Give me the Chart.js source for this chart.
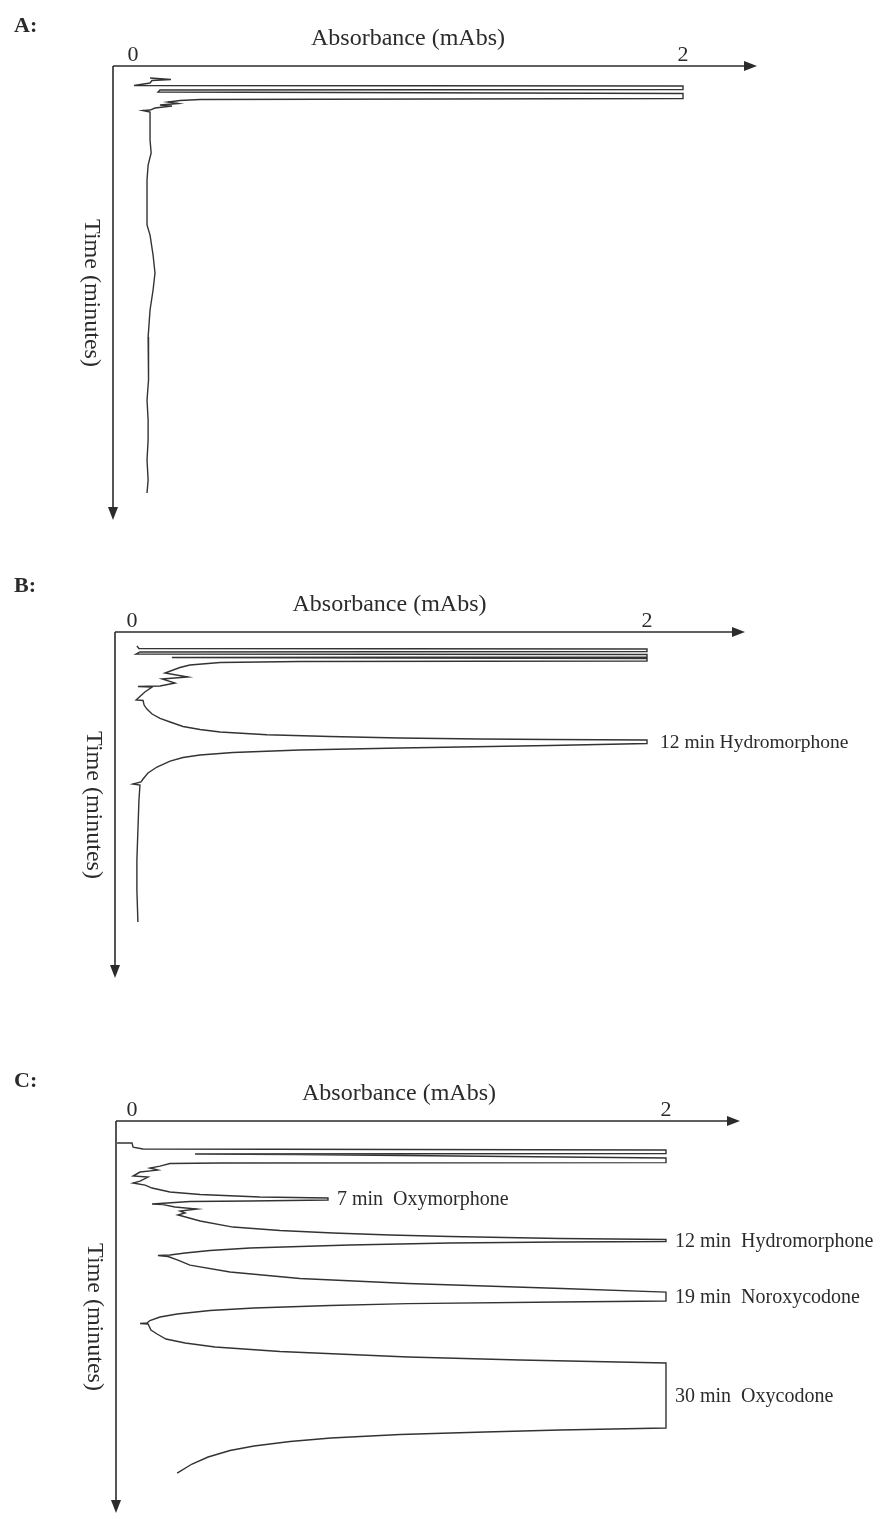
<!DOCTYPE html>
<html>
<head>
<meta charset="utf-8">
<script src="https://cdn.jsdelivr.net/npm/chart.js@4.4.0/dist/chart.umd.min.js"></script>
<style>
  html, body { margin: 0; padding: 0; background: #fff; }
  body { width: 892px; height: 1514px; position: relative; overflow: hidden; }
  canvas { position: absolute; left: 0; }
</style>
</head>
<body>
<canvas id="chartA" width="892" height="540" style="top:0px"></canvas>
<canvas id="chartB" width="892" height="450" style="top:545px"></canvas>
<canvas id="chartC" width="892" height="474" style="top:1040px"></canvas>
<script>
(function(){
	var serif = '"Liberation Serif", "Times New Roman", serif';
	var ink = '#2b2b2b';
	var trace = '#333333';

	// absorbance ticks shown on every panel
	var absTicks = [0, 2];

	// A: blank injection
	var timeA = [0.23, 0.41, 0.53, 0.82, 1.11, 1.17, 1.58, 1.64, 1.88, 2.06, 2.64, 2.76, 2.88, 3.06, 3.23, 3.41, 3.53, 3.76, 4.0, 4.06,
		4.24, 5.76, 7.53, 9.06, 10.47, 12.24, 14.59, 17.53, 18.71, 21.06, 23.18, 25.18, 27.53, 30.71, 33.41, 35.76, 38.12, 40.47, 42.82, 45.18, 47.53, 49.06];
	var absA = [0.062, 0.138, 0.069, 0.062, 0.004, 2, 2, 0.098, 0.091, 2, 2, 0.244, 0.171, 0.127, 0.164, 0.098, 0.142, 0.080, 0.062, 0.036,
		0.062, 0.062, 0.062, 0.066, 0.055, 0.051, 0.051, 0.051, 0.062, 0.073, 0.080, 0.073, 0.062, 0.055, 0.055, 0.058, 0.051, 0.055, 0.055, 0.051, 0.055, 0.051];

	// B: hydromorphone standard
	var timeB = [0.25, 0.56, 0.63, 0.94, 1.0, 1.25, 1.31, 1.63, 1.69, 1.81, 2.13, 2.19, 2.31, 2.63, 2.94, 3.63, 4.13, 4.38, 4.88, 5.25, 5.31, 5.38,
		6.0, 7.0, 7.06, 7.63, 8.13, 8.75, 9.31, 9.75, 10.31, 10.69, 11.0, 11.35, 11.56, 11.75, 11.88, 11.94, 12.0,
		12.44, 12.69, 13.0, 13.25, 13.56, 13.88, 14.19, 14.63, 15.38, 16.13, 16.88,
		17.25, 17.5, 17.63, 19.5, 23.25, 27.0, 30.75, 34.75];
	var absB = [0.019, 0.027, 2, 2, 0.031, 0.016, 2, 2, 0.155, 2, 2, 0.652, 0.342, 0.225, 0.186, 0.128, 0.217, 0.117, 0.167, 0.109, 0.023, 0.078,
		0.050, 0.016, 0.043, 0.047, 0.058, 0.078, 0.109, 0.148, 0.198, 0.264, 0.342, 0.524, 0.769, 1.041, 1.351, 1.623, 2,
		2, 1.623, 1.041, 0.652, 0.392, 0.264, 0.198, 0.148, 0.097, 0.062, 0.043,
		0.035, 0.004, 0.031, 0.027, 0.023, 0.019, 0.019, 0.023];
	var peakTimesB = [12];
	var peakNamesB = ['12 min Hydromorphone'];

	// C: mixed standard
	var timeC = [0.59, 0.59, 1.06, 1.29, 1.41, 1.82, 1.88, 1.94, 2.35, 2.88, 2.93, 2.99, 3.29, 3.52, 3.76, 3.99, 4.46, 4.58, 5.05, 5.28, 5.52, 5.87,
		6.34, 6.63, 6.92, 7.04, 7.28, 7.39, 7.45, 7.75, 7.81, 8.10, 8.33, 8.57, 8.80, 9.04, 9.15,
		9.74, 10.45, 10.86, 11.15, 11.38, 11.56, 11.80, 11.91, 12.15,
		12.21, 12.32, 12.56, 12.73, 12.91, 13.20, 13.50, 13.73, 13.79, 13.91, 14.32, 14.91, 15.73, 16.49, 17.08, 17.66, 18.08, 19.13,
		19.25, 19.43, 19.66, 19.95, 20.25, 20.66, 21.01, 21.42, 21.71, 21.77, 21.83, 22.54, 23.00, 23.59, 24.06, 24.53, 25.06, 25.70, 26.06, 26.41,
		34.04, 34.27, 34.51, 34.80, 35.21, 35.62, 36.15, 36.68, 37.44, 38.26, 39.32];
	var absC = [-0.056, 0, 0.004, 0.041, 2, 2, 0.236, 0.618, 2, 2, 0.330, 0.142, 0.105, 0.067, 0.097, 0.030, 0.004, 0.060, 0.030, 0.004, 0.049, 0.075,
		0.142, 0.255, 0.479, 0.734, 0.734, 0.442, 0.217, 0.075, 0.116, 0.161, 0.243, 0.180, 0.199, 0.172, 0.187,
		0.255, 0.378, 0.554, 0.753, 0.966, 1.191, 1.603, 2, 2,
		1.603, 1.191, 0.816, 0.629, 0.442, 0.292, 0.199, 0.142, 0.097, 0.135, 0.172, 0.217, 0.367, 0.629, 1.034, 1.610, 2, 2,
		1.603, 1.034, 0.742, 0.457, 0.292, 0.169, 0.105, 0.067, 0.056, 0.030, 0.060, 0.071, 0.094, 0.127, 0.199, 0.311, 0.554, 1.034, 1.453, 2,
		2, 1.603, 1.322, 1.004, 0.745, 0.592, 0.457, 0.367, 0.285, 0.225, 0.169];
	var peakTimesC = [7, 12, 19, 30];
	var peakNamesC = ['7 min  Oxymorphone', '12 min  Hydromorphone', '19 min  Noroxycodone', '30 min  Oxycodone'];

	function arrowHead(ctx, x, y, angle){
		ctx.save();
		ctx.translate(x, y);
		ctx.rotate(angle);
		ctx.beginPath();
		ctx.moveTo(0, 0);
		ctx.lineTo(-13, -5);
		ctx.lineTo(-13, 5);
		ctx.closePath();
		ctx.fill();
		ctx.restore();
	}

	// walk from the point nearest the quoted time up to the peak top,
	// then take the middle of the run sitting at that height
	function apexOf(times, absorb, t){
		var i = 0, k;
		for( k = 1; k < times.length; k++ ){
			if( Math.abs(times[k] - t) < Math.abs(times[i] - t) ) i = k;
		}
		var moved = true;
		while( moved ){
			moved = false;
			if( i > 0 && absorb[i-1] > absorb[i] ){ i--; moved = true; }
			else if( i < absorb.length - 1 && absorb[i+1] > absorb[i] ){ i++; moved = true; }
		}
		var a = i, b = i;
		while( a > 0 && absorb[a-1] === absorb[i] ) a--;
		while( b < absorb.length - 1 && absorb[b+1] === absorb[i] ) b++;
		return { abs: absorb[i], time: (times[a] + times[b]) / 2 };
	}

	var panelDecor = {
		id: 'panelDecor',
		afterDatasetsDraw: function(chart, args, opts){
			var ctx = chart.ctx, area = chart.chartArea;
			var xs = chart.scales.x, ys = chart.scales.y;
			ctx.save();
			ctx.strokeStyle = ink;
			ctx.fillStyle = ink;
			ctx.lineWidth = 1.6;

			// absorbance axis runs on past the plot area
			var tipX = area.right + opts.arrowReach;
			ctx.beginPath();
			ctx.moveTo(area.left, area.top);
			ctx.lineTo(tipX - 8, area.top);
			ctx.stroke();
			arrowHead(ctx, tipX, area.top, 0);

			// time axis pointing down
			ctx.beginPath();
			ctx.moveTo(area.left, area.top);
			ctx.lineTo(area.left, area.bottom - 8);
			ctx.stroke();
			arrowHead(ctx, area.left, area.bottom, Math.PI / 2);

			// time title reads top to bottom
			ctx.save();
			ctx.translate(area.left - 22, (area.top + area.bottom) / 2);
			ctx.rotate(Math.PI / 2);
			ctx.font = '24px ' + serif;
			ctx.textAlign = 'center';
			ctx.textBaseline = 'middle';
			ctx.fillText('Time (minutes)', 0, 0);
			ctx.restore();

			// panel letter
			ctx.font = 'bold 22px ' + serif;
			ctx.textAlign = 'left';
			ctx.textBaseline = 'alphabetic';
			ctx.fillText(opts.letter, 14, opts.letterY);

			// peak names beside their tops
			ctx.font = opts.labelSize + 'px ' + serif;
			ctx.textBaseline = 'middle';
			opts.peakTimes.forEach(function(t, i){
				var top = apexOf(opts.times, opts.absorb, t);
				ctx.fillText(opts.peakNames[i], xs.getPixelForValue(top.abs) + opts.labelGap, ys.getPixelForValue(top.time) + 1);
			});
			ctx.restore();
		}
	};

	function makePanel(id, times, absorb, cfg){
		var pts = times.map(function(t, i){ return { x: absorb[i], y: t }; });
		return new Chart(document.getElementById(id), {
			type: 'scatter',
			data: {
				datasets: [{
					data: pts,
					showLine: true,
					borderColor: trace,
					borderWidth: 1.4,
					pointRadius: 0,
					fill: false,
					tension: 0
				}]
			},
			options: {
				responsive: false,
				animation: false,
				devicePixelRatio: 1,
				layout: { padding: cfg.pad },
				plugins: {
					legend: { display: false },
					tooltip: { enabled: false },
					panelDecor: {
						letter: cfg.letter,
						letterY: cfg.letterY,
						arrowReach: cfg.arrowReach,
						labelSize: cfg.labelSize,
						labelGap: cfg.labelGap,
						times: times,
						absorb: absorb,
						peakTimes: cfg.peakTimes,
						peakNames: cfg.peakNames
					}
				},
				scales: {
					x: {
						type: 'linear',
						position: 'top',
						min: cfg.absMin,
						max: cfg.absMax,
						afterBuildTicks: function(s){ s.ticks = absTicks.map(function(v){ return { value: v }; }); },
						afterFit: function(s){ s.height = 40; },
						grid: { display: false, drawTicks: false },
						border: { display: false },
						ticks: {
							font: { family: serif, size: 22, lineHeight: 1 },
							color: ink,
							padding: 0,
							callback: function(v){ return String(v); }
						},
						title: {
							display: true,
							text: 'Absorbance (mAbs)',
							font: { family: serif, size: 24, lineHeight: 1 },
							color: ink,
							padding: { top: 1, bottom: 0 }
						}
					},
					y: {
						type: 'linear',
						display: false,
						reverse: true,
						min: cfg.timeMin,
						max: cfg.timeMax
					}
				}
			},
			plugins: [panelDecor]
		});
	}

	makePanel('chartA', timeA, absA, {
		letter: 'A:', letterY: 32, arrowReach: 54, labelSize: 20, labelGap: 9,
		pad: { left: 113, right: 189, top: 26, bottom: 20 },
		absMin: -0.0727, absMax: 2.0727, timeMin: -1.18, timeMax: 52.24,
		peakTimes: [], peakNames: []
	});

	makePanel('chartB', timeB, absB, {
		letter: 'B:', letterY: 47, arrowReach: 81, labelSize: 19.5, labelGap: 13,
		pad: { left: 115, right: 228, top: 47, bottom: 17 },
		absMin: -0.066, absMax: 2.066, timeMin: -1.5, timeMax: 41.75,
		peakTimes: peakTimesB, peakNames: peakNamesB
	});

	makePanel('chartC', timeC, absC, {
		letter: 'C:', letterY: 47, arrowReach: 58, labelSize: 20, labelGap: 9,
		pad: { left: 116, right: 210, top: 41, bottom: 1 },
		absMin: -0.06, absMax: 2.06, timeMin: -2.0, timeMax: 44.01,
		peakTimes: peakTimesC, peakNames: peakNamesC
	});
}());
</script>
</body>
</html>
